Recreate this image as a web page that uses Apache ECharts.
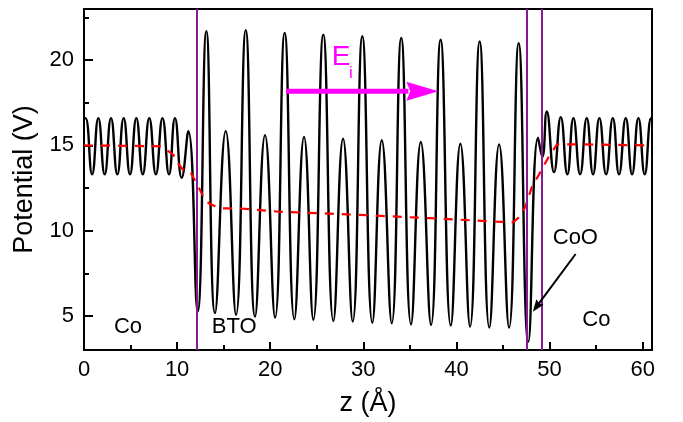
<!DOCTYPE html>
<html>
<head>
<meta charset="utf-8">
<script src="https://cdn.jsdelivr.net/npm/echarts@6/dist/echarts.min.js"></script>
<style>
  html, body { margin: 0; padding: 0; background: #fff; }
  #chart { width: 683px; height: 422px; }
</style>
</head>
<body>
<div id="chart"></div>
<script>
// planar-averaged potential: maxima / minima
const potZ = [0, 0.17, 0.87, 1.54, 2.22, 2.90, 3.58, 4.26, 4.94, 5.62, 6.31, 7.01, 7.72, 8.43, 9.13, 9.77, 10.49, 11.20, 12.2,
  13.14, 14.07, 15.22, 16.33, 17.37, 18.37, 19.44, 20.52, 21.55, 22.59, 23.63, 24.63, 25.70, 26.78, 27.82, 28.86,
  29.89, 30.97, 31.98, 33.05, 34.07, 35.12, 36.17, 37.27, 38.30, 39.39, 40.42, 41.46, 42.49, 43.53, 44.58, 45.65,
  46.68, 47.72, 48.76, 49.22, 49.70, 50.48, 51.20, 51.91, 52.56, 53.28, 53.99, 54.67, 55.35, 56.07, 56.79, 57.46,
  58.18, 58.86, 59.54, 60.22, 60.9, 61];
const potV = [16.55, 16.6, 13.3, 16.6, 13.3, 16.6, 13.3, 16.6, 13.3, 16.6, 13.3, 16.6, 13.3, 16.6, 13.3, 16.6, 13.1, 15.84, 5.25,
  21.7, 5.16, 15.84, 5.06, 21.76, 4.96, 15.6, 4.9, 21.6, 4.8, 15.5, 4.77, 21.5, 4.7, 15.39, 4.67,
  21.4, 4.6, 15.3, 4.57, 21.3, 4.5, 15.2, 4.47, 21.2, 4.43, 15.1, 4.37, 21.1, 4.31, 15.06, 4.31,
  21.0, 3.49, 15.45, 14.32, 16.99, 13.43, 16.66, 13.3, 16.6, 13.3, 16.6, 13.3, 16.6, 13.3, 16.6, 13.3,
  16.6, 13.3, 16.6, 13.3, 16.6, 16.5];

// macroscopic average (red dashed)
const avgZ = [0, 8.3, 9.6, 10.0, 10.7, 11.4, 12.3, 13.0, 13.5, 14.6, 16.8, 21.0, 28.2, 37.2, 44.3, 46.1, 46.8, 47.4, 48.1, 49.0, 49.9, 50.8, 53.0, 61];
const avgV = [15.0, 14.95, 14.45, 14.0, 13.53, 13.47, 12.56, 11.8, 11.57, 11.31, 11.3, 11.11, 10.96, 10.73, 10.53, 10.5, 10.82, 11.4, 12.56, 13.43, 14.32, 15.06, 15.06, 15.0];

// interfaces
const interfaceZ = [12.1, 47.6, 49.15];

// ticks
const xMajor = [0, 10, 20, 30, 40, 50, 60];
const xMinor = [5, 15, 25, 35, 45, 55];
const yMajor = [5, 10, 15, 20];
const yMinor = [7.5, 12.5, 17.5, 22.5];

// annotations
const annoText = ['Co', 'BTO', 'CoO', 'Co'];
const annoZ = [3.22, 13.72, 50.34, 53.52];
const annoV = [4.35, 4.35, 9.55, 4.79];
const fieldArrow = [21.7, 18.18, 38.06, 18.18];
const cooArrow = [52.8, 8.63, 48.2, 5.25];
const eLabel = [26.6, 20.19];
const eSub = [28.46, 19.22];

const FONT = 'Liberation Sans, Arial, sans-serif';
const zip = (a, b) => a.map((v, i) => [v, b[i]]);

function arrowSeries(pts, color, width, headLen, headW) {
  return {
    type: 'custom',
    data: [pts],
    encode: { x: [0, 2], y: [1, 3] },
    z: 6,
    silent: true,
    renderItem: function (params, api) {
      const a = api.coord([api.value(0), api.value(1)]);
      const b = api.coord([api.value(2), api.value(3)]);
      const dx = b[0] - a[0], dy = b[1] - a[1];
      const len = Math.sqrt(dx * dx + dy * dy);
      const ux = dx / len, uy = dy / len;
      const bx = b[0] - ux * headLen, by = b[1] - uy * headLen;
      return {
        type: 'group',
        children: [
          { type: 'line', shape: { x1: a[0], y1: a[1], x2: bx + ux * 2, y2: by + uy * 2 },
            style: { stroke: color, lineWidth: width } },
          { type: 'polygon', shape: { points: [
              [b[0], b[1]],
              [bx - uy * headW / 2, by + ux * headW / 2],
              [bx + ux * headLen * 0.12, by + uy * headLen * 0.12],
              [bx + uy * headW / 2, by - ux * headW / 2]
            ] },
            style: { fill: color } }
        ]
      };
    }
  };
}

const chart = echarts.init(document.getElementById('chart'));
const axisLine = { show: true, onZero: false, lineStyle: { color: '#000', width: 2 } };
const tickStyle = { color: '#000', width: 2 };

const option = {
  animation: false,
  backgroundColor: '#fff',
  grid: { left: 84, right: 31, top: 9, bottom: 72, show: true, borderColor: '#000', borderWidth: 2 },
  xAxis: [
    {
      type: 'value', min: 0, max: 61, position: 'bottom',
      axisLine: axisLine,
      axisTick: { show: true, inside: true, length: 8, lineStyle: tickStyle, customValues: xMajor },
      axisLabel: { customValues: xMajor, fontSize: 22, color: '#000', margin: 9, fontFamily: FONT },
      splitLine: { show: false },
      name: 'z (Å)', nameLocation: 'middle', nameGap: 40,
      nameTextStyle: { fontSize: 27, color: '#000', fontFamily: FONT }
    },
    {
      type: 'value', min: 0, max: 61, position: 'bottom',
      axisLine: { show: false },
      axisTick: { show: true, inside: true, length: 5, lineStyle: tickStyle, customValues: xMinor },
      axisLabel: { show: false },
      splitLine: { show: false }
    }
  ],
  yAxis: [
    {
      type: 'value', min: 3, max: 23, position: 'left',
      axisLine: axisLine,
      axisTick: { show: true, inside: true, length: 9, lineStyle: tickStyle, customValues: yMajor },
      axisLabel: { customValues: yMajor, fontSize: 22, color: '#000', margin: 10, fontFamily: FONT },
      splitLine: { show: false },
      name: 'Potential (V)', nameLocation: 'middle', nameGap: 46, nameRotate: 90,
      nameTextStyle: { fontSize: 27, color: '#000', fontFamily: FONT }
    },
    {
      type: 'value', min: 3, max: 23, position: 'left',
      axisLine: { show: false },
      axisTick: { show: true, inside: true, length: 5, lineStyle: tickStyle, customValues: yMinor },
      axisLabel: { show: false },
      splitLine: { show: false }
    }
  ],
  series: [
    {
      name: 'potential', type: 'line', data: zip(potZ, potV),
      showSymbol: false, symbol: 'none', smooth: 0.5, z: 2,
      lineStyle: { color: '#000', width: 2.4 }
    },
    {
      name: 'average', type: 'line', data: zip(avgZ, avgV),
      showSymbol: false, symbol: 'none', smooth: false, z: 3,
      lineStyle: { color: '#ff0000', width: 2.2, type: [9, 8] }
    },
    {
      name: 'interfaces', type: 'line', data: [], z: 4,
      markLine: {
        silent: true, symbol: ['none', 'none'], animation: false,
        label: { show: false },
        lineStyle: { color: '#851a94', width: 2, type: 'solid' },
        data: interfaceZ.map(v => ({ xAxis: v }))
      }
    },
    arrowSeries(fieldArrow, '#ff00ff', 5, 32, 19),
    arrowSeries(cooArrow, '#000', 2, 12, 9),
    {
      type: 'custom', data: zip(annoZ, annoV), encode: { x: 0, y: 1 }, z: 7, silent: true,
      renderItem: function (params, api) {
        const p = api.coord([api.value(0), api.value(1)]);
        return { type: 'text', x: p[0], y: p[1],
          style: { text: annoText[params.dataIndex], fontSize: 22, fontFamily: FONT, fill: '#000', align: 'left', verticalAlign: 'middle' } };
      }
    },
    {
      type: 'custom', data: [eLabel, eSub], encode: { x: 0, y: 1 }, z: 7, silent: true,
      renderItem: function (params, api) {
        const p = api.coord([api.value(0), api.value(1)]);
        return { type: 'text', x: p[0], y: p[1],
          style: { text: params.dataIndex === 0 ? 'E' : 'i', fontSize: params.dataIndex === 0 ? 28 : 17,
            fontFamily: FONT, fill: '#ff00ff', align: 'left', verticalAlign: 'middle' } };
      }
    }
  ]
};
chart.setOption(option);
</script>
</body>
</html>
